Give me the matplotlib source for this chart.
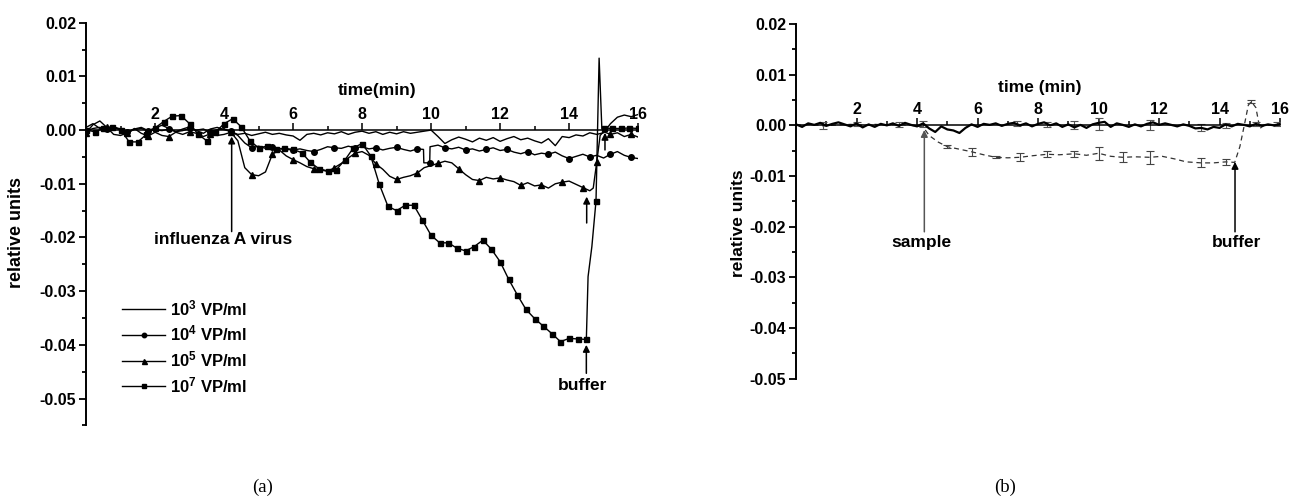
import numpy as np
import matplotlib
matplotlib.use("Agg")
import matplotlib.pyplot as plt
from matplotlib.ticker import MultipleLocator, FixedLocator

plt.rcParams['font.family'] = ['Liberation Sans', 'DejaVu Sans']
plt.rcParams['font.weight'] = 'bold'
plt.rcParams['axes.unicode_minus'] = False
plt.rcParams['mathtext.fontset'] = 'custom'
for k in ('rm', 'it', 'bf', 'sf'):
    plt.rcParams['mathtext.' + k] = 'Liberation Sans:bold'

# ======== panel (a) data ==========
t_a = np.round(np.arange(0, 16.01, 0.2), 1)
vp3 = [0.0005, 0.0012, 0.0003, -0.0002, 0.0004, 0.0001, -0.0006, 0.0002, 0.0005, -0.0001,
       0.0004, 0.0009, 0.0003, -0.0003, 0.0002, 0.0006, -0.0001, -0.0006, 0.0002, 0.0005,
       0.0001, -0.0003, -0.0008, -0.0006, -0.0010, -0.0007, -0.0004, -0.0008, -0.0006, -0.0009,
       -0.0011, -0.0019, -0.0008, -0.0006, -0.0009, -0.0005, -0.0007, -0.0003, -0.0008, -0.0004,
       -0.0002, -0.0006, -0.0003, -0.0008, -0.0004, -0.0007, -0.0003, -0.0006, -0.0004, -0.0002,
       0.0000, -0.0012, -0.0025, -0.0018, -0.0013, -0.0017, -0.0022, -0.0015, -0.0019, -0.0014,
       -0.0021, -0.0016, -0.0012, -0.0018, -0.0015, -0.0020, -0.0024, -0.0016, -0.0029, -0.0012,
       -0.0014, -0.0009, -0.0011, -0.0005, -0.0008, -0.0005, 0.0012, 0.0024, 0.0028, 0.0025,
       0.0029]

t_vp4 = [0.0, 0.2, 0.4, 0.6, 0.8, 1.0, 1.2, 1.4, 1.6, 1.8, 2.0, 2.2, 2.4, 2.6, 2.8, 3.0, 3.2,
         3.4, 3.6, 3.8, 4.0, 4.2, 4.4, 4.6, 4.8, 5.0, 5.2, 5.4, 5.6, 5.8, 6.0, 6.2, 6.4, 6.6,
         6.8, 7.0, 7.2, 7.4, 7.6, 7.8, 8.0, 8.2, 8.4, 8.6, 8.8, 9.0, 9.2, 9.4, 9.6, 9.78, 9.79,
         9.96, 9.97, 10.2, 10.4, 10.6, 10.8, 11.0, 11.2, 11.4, 11.6, 11.8, 12.0, 12.2, 12.4,
         12.6, 12.8, 13.0, 13.2, 13.4, 13.6, 13.8, 14.0, 14.2, 14.4, 14.6, 14.8, 15.0, 15.2,
         15.4, 15.6, 15.8, 16.0]
vp4 = [-0.0002, 0.0003, 0.0005, 0.0002, 0.0006, 0.0002, -0.0003, 0.0001, 0.0003, -0.0002,
       0.0001, -0.0001, 0.0002, -0.0003, -0.0001, 0.0003, 0.0000, 0.0002, -0.0004, 0.0001,
       0.0002, -0.0002, -0.0010, -0.0024, -0.0033, -0.0030, -0.0034, -0.0031, -0.0035, -0.0036,
       -0.0037, -0.0035, -0.0038, -0.0040, -0.0036, -0.0031, -0.0033, -0.0034, -0.0030, -0.0033,
       -0.0031, -0.0035, -0.0033, -0.0037, -0.0034, -0.0032, -0.0036, -0.0039, -0.0035, -0.0036,
       -0.0061, -0.0061, -0.0031, -0.0028, -0.0033, -0.0035, -0.0032, -0.0037, -0.0035, -0.0039,
       -0.0036, -0.0033, -0.0038, -0.0036, -0.0041, -0.0044, -0.0040, -0.0046, -0.0043, -0.0045,
       -0.0041, -0.0048, -0.0053, -0.0049, -0.0045, -0.0050, -0.0047, -0.0052, -0.0045, -0.0040,
       -0.0047, -0.0051, -0.0053]

t_vp5 = [0.0, 0.2, 0.4, 0.6, 0.8, 1.0, 1.2, 1.4, 1.6, 1.8, 2.0, 2.2, 2.4, 2.6, 2.8, 3.0, 3.2,
         3.4, 3.6, 3.8, 4.0, 4.2, 4.4, 4.6, 4.8, 5.0, 5.2, 5.4, 5.6, 5.8, 6.0, 6.2, 6.4, 6.6,
         6.8, 7.0, 7.2, 7.4, 7.6, 7.8, 8.0, 8.2, 8.4, 8.6, 8.8, 9.0, 9.2, 9.4, 9.6, 9.8, 10.0,
         10.2, 10.4, 10.6, 10.8, 11.0, 11.2, 11.4, 11.6, 11.8, 12.0, 12.2, 12.4, 12.6, 12.8,
         13.0, 13.2, 13.4, 13.6, 13.8, 14.0, 14.2, 14.4, 14.6, 14.7, 14.8, 14.9, 15.0, 15.2,
         15.4, 15.6, 15.8, 16.0]
vp5 = [-0.0005, 0.0010, 0.0017, 0.0005, -0.0008, -0.0010, -0.0005, 0.0003, -0.0006, -0.0011,
       -0.0004, -0.0010, -0.0012, -0.0004, -0.0008, -0.0003, -0.0006, -0.0012, -0.0007, -0.0010,
       -0.0008, -0.0004, -0.0020, -0.0070, -0.0083, -0.0085, -0.0078, -0.0045, -0.0037, -0.0048,
       -0.0055, -0.0061, -0.0068, -0.0072, -0.0074, -0.0077, -0.0070, -0.0062, -0.0052, -0.0043,
       -0.0040, -0.0047, -0.0063, -0.0073, -0.0086, -0.0092, -0.0088, -0.0085, -0.0080, -0.0070,
       -0.0066, -0.0062, -0.0058, -0.0061, -0.0072, -0.0083, -0.0092, -0.0094, -0.0088, -0.0091,
       -0.0089, -0.0093, -0.0096, -0.0103, -0.0098, -0.0104, -0.0102, -0.0108, -0.0100, -0.0097,
       -0.0095, -0.0101, -0.0107, -0.0113, -0.0108, -0.0060, -0.0010, -0.0003, -0.0008, -0.0005,
       -0.0012, -0.0008, -0.0013]

t_vp7 = [0.0, 0.25, 0.5, 0.75, 1.0, 1.25, 1.5, 1.75, 2.0, 2.25, 2.5, 2.75, 3.0, 3.25, 3.5, 3.75,
         4.0, 4.25, 4.5, 4.75, 5.0, 5.25, 5.5, 5.75, 6.0, 6.25, 6.5, 6.75, 7.0, 7.25, 7.5, 7.75,
         8.0, 8.25, 8.5, 8.75, 9.0, 9.25, 9.5, 9.75, 10.0, 10.25, 10.5, 10.75, 11.0, 11.25,
         11.5, 11.75, 12.0, 12.25, 12.5, 12.75, 13.0, 13.25, 13.5, 13.75, 14.0, 14.25, 14.5,
         14.55, 14.66, 14.78, 14.87, 14.95, 15.0, 15.25, 15.5, 15.75, 16.0]
vp7 = [0.0000, -0.0003, 0.0003, 0.0006, 0.0001, -0.0022, -0.0022, -0.0008, 0.0004, 0.0016,
       0.0026, 0.0027, 0.0012, -0.0008, -0.0020, -0.0004, 0.0012, 0.0021, 0.0006, -0.0020,
       -0.0033, -0.0030, -0.0035, -0.0034, -0.0036, -0.0042, -0.0060, -0.0072, -0.0076, -0.0074,
       -0.0056, -0.0033, -0.0025, -0.0048, -0.0101, -0.0142, -0.0150, -0.0140, -0.0140, -0.0168,
       -0.0196, -0.0210, -0.0210, -0.0220, -0.0225, -0.0217, -0.0205, -0.0222, -0.0245, -0.0278,
       -0.0307, -0.0334, -0.0351, -0.0365, -0.0379, -0.0394, -0.0388, -0.0389, -0.0390, -0.0273,
       -0.0217, -0.0132, 0.0134, 0.0002, 0.0004, 0.0003, 0.0003, 0.0004, 0.0003]
no_mark_7 = [14.55, 14.66, 14.87, 14.95]

legend_labels = ['10$^{3}$ VP/ml', '10$^{4}$ VP/ml', '10$^{5}$ VP/ml', '10$^{7}$ VP/ml']

# ======== panel (b) data ==========
t_b = np.round(np.arange(0, 16.01, 0.2), 1)
ref_b = [0.0002, -0.0003, 0.0004, 0.0001, 0.0005, -0.0001, 0.0003, 0.0006, 0.0002, -0.0002,
         0.0004, -0.0004, 0.0002, -0.0003, 0.0003, 0.0000, 0.0004, -0.0001, 0.0005, 0.0001,
         -0.0002, 0.0004, -0.0006, -0.0013, -0.0002, -0.0008, -0.0010, -0.0015, -0.0005, 0.0002,
         -0.0003, 0.0003, 0.0001, 0.0004, -0.0001, 0.0003, 0.0005, 0.0000, 0.0004, -0.0002,
         0.0003, 0.0006, 0.0000, 0.0004, -0.0003, 0.0002, -0.0004, 0.0001, -0.0005, 0.0002,
         0.0005, 0.0007, -0.0003, 0.0004, 0.0001, -0.0003, 0.0002, -0.0002, 0.0003, 0.0006,
         0.0001, 0.0004, 0.0001, -0.0002, 0.0002, -0.0001, -0.0006, -0.0005, -0.0008, -0.0003,
         -0.0005, 0.0002, -0.0002, 0.0003, 0.0001, -0.0002, 0.0003, -0.0001, 0.0002, 0.0000,
         0.0003]
ref_err_t = [0.9, 2.0, 3.4, 4.2, 7.3, 8.3, 9.2, 10.0, 11.7, 13.4, 14.2, 15.2, 15.9]
ref_err_v = [0.0000, 0.0003, 0.0001, 0.0003, 0.0003, 0.0002, 0.0000, 0.0003, 0.0001, -0.0005, 0.0000, 0.0002, 0.0002]
ref_err_e = [0.0007, 0.0004, 0.0005, 0.0006, 0.0005, 0.0005, 0.0008, 0.0012, 0.0010, 0.0007, 0.0005, 0.0004, 0.0004]

t_smp = [0.0, 0.5, 0.9, 1.4, 1.8, 2.3, 2.6, 3.0, 3.4, 3.8, 4.2, 4.4, 4.7, 5.0, 5.4, 5.8, 6.2,
         6.6, 7.0, 7.4, 7.8, 8.3, 8.7, 9.2, 9.6, 10.0, 10.4, 10.8, 11.2, 11.7, 12.1, 12.5, 12.9,
         13.4, 13.8, 14.2, 14.5, 14.67, 14.83, 14.95, 15.05, 15.2, 15.33, 15.5, 15.8, 16.0]
smp = [0.0000, 0.0002, -0.0001, 0.0001, 0.0002, 0.0000, 0.0002, 0.0001, 0.0002, 0.0000,
       -0.0003, -0.0020, -0.0033, -0.0042, -0.0047, -0.0052, -0.0058, -0.0063, -0.0064, -0.0063,
       -0.0060, -0.0057, -0.0058, -0.0056, -0.0059, -0.0055, -0.0061, -0.0063, -0.0062, -0.0063,
       -0.0061, -0.0066, -0.0072, -0.0074, -0.0074, -0.0072, -0.0073, -0.0042, 0.0004, 0.0040,
       0.0047, 0.0035, -0.0006, 0.0001, 0.0000, 0.0001]
smp_err_t = [5.0, 5.8, 6.6, 7.4, 8.3, 9.2, 10.0, 10.8, 11.7, 13.4, 14.2, 15.05]
smp_err_v = [-0.0042, -0.0052, -0.0063, -0.0063, -0.0057, -0.0056, -0.0055, -0.0063, -0.0063, -0.0074, -0.0072, 0.0047]
smp_err_e = [0.0003, 0.0008, 0.0002, 0.0008, 0.0006, 0.0006, 0.0013, 0.0010, 0.0013, 0.0009, 0.0006, 0.0003]

FS = 11.5


# ======== style_axes() ==========
# Origin-like axes: y spine at x=0, x axis drawn through y=0 with labels above.
# ================================
def style_axes(ax, ymin, ymax):
    ax.set_xlim(0, 16)
    ax.set_ylim(ymin, ymax)
    ax.spines['right'].set_visible(False)
    ax.spines['bottom'].set_visible(False)
    ax.spines['top'].set_position(('data', 0))
    ax.spines['left'].set_linewidth(1.4)
    ax.spines['top'].set_linewidth(1.1)
    ax.xaxis.set_ticks_position('top')
    ax.xaxis.set_major_locator(FixedLocator([2, 4, 6, 8, 10, 12, 14, 16]))
    ax.xaxis.set_minor_locator(FixedLocator([1, 3, 5, 7, 9, 11, 13, 15]))
    ax.yaxis.set_major_locator(MultipleLocator(0.01))
    ax.yaxis.set_minor_locator(MultipleLocator(0.005))
    ax.yaxis.set_major_formatter(plt.FuncFormatter(lambda v, p: '%.2f' % (round(v, 4) + 0.0)))
    ax.tick_params(axis='x', which='major', direction='out', length=5, width=1.1, labelsize=FS, pad=1)
    ax.tick_params(axis='x', which='minor', direction='out', length=3, width=1.1)
    ax.tick_params(axis='y', which='major', direction='out', length=5, width=1.3, labelsize=FS, pad=2)
    ax.tick_params(axis='y', which='minor', direction='out', length=3, width=1.3)
    ax.patch.set_alpha(0)


fig = plt.figure(figsize=(12.98, 4.97), dpi=100)

# ---- panel (a)
ax1 = fig.add_axes([0.0663, 0.1441, 0.4253, 0.8102])
style_axes(ax1, -0.055, 0.02)

marks_7 = [t not in no_mark_7 for t in t_vp7]
l3, = ax1.plot(t_a, vp3, color='black', lw=1.0)
l4, = ax1.plot(t_vp4, vp4, color='black', lw=1.0, marker='o', ms=4, markevery=3)
l5, = ax1.plot(t_vp5, vp5, color='black', lw=1.0, marker='^', ms=4.5, markevery=3)
l7, = ax1.plot(t_vp7, vp7, color='black', lw=1.0, marker='s', ms=3.6, markevery=marks_7)

ax1.set_ylabel('relative units', fontsize=13, fontweight='bold')
ax1.yaxis.set_label_coords(-0.110, 0.48)
ax1.text(8.43, 0.0074, 'time(min)', ha='center', va='center', fontsize=12.5)

arrow = dict(arrowstyle='-|>', color='black', lw=1.1, mutation_scale=10, shrinkA=0, shrinkB=0)
ax1.annotate('', xy=(4.22, -0.0012), xytext=(4.22, -0.0189), arrowprops=arrow)
ax1.text(3.97, -0.0203, 'influenza A virus', ha='center', va='center', fontsize=12.5)
ax1.annotate('', xy=(14.5, -0.0400), xytext=(14.5, -0.0453), arrowprops=arrow)
ax1.text(14.4, -0.0476, 'buffer', ha='center', va='center', fontsize=12.5)
ax1.annotate('', xy=(14.51, -0.0124), xytext=(14.51, -0.0173), arrowprops=arrow)
ax1.annotate('', xy=(15.04, -0.0005), xytext=(15.04, -0.0037), arrowprops=arrow)

ax1.legend([l3, l4, l5, l7], legend_labels, loc='upper left',
           bbox_to_anchor=(122 / 1298, 1 - 298 / 497), bbox_transform=fig.transFigure,
           frameon=False, fontsize=12, handlelength=2.6, handletextpad=0.3,
           labelspacing=0.35, borderpad=0, borderaxespad=0, markerscale=0.8)

# ---- panel (b)
ax2 = fig.add_axes([0.6133, 0.2378, 0.3729, 0.7139])
style_axes(ax2, -0.05, 0.02)

ax2.plot(t_smp, smp, color='#333333', lw=0.9, ls=(0, (4, 3)))
ax2.errorbar(smp_err_t, smp_err_v, yerr=smp_err_e, fmt='none', ecolor='#444444',
             elinewidth=0.8, capsize=3, capthick=0.8)
ax2.errorbar(ref_err_t, ref_err_v, yerr=ref_err_e, fmt='none', ecolor='#555555',
             elinewidth=0.8, capsize=3, capthick=0.8)
ax2.plot(t_b, ref_b, color='black', lw=1.6)

ax2.set_ylabel('relative units', fontsize=12.5, fontweight='bold')
ax2.yaxis.set_label_coords(-0.103, 0.44)
ax2.text(8.05, 0.0074, 'time (min)', ha='center', va='center', fontsize=12.5)

ax2.annotate('', xy=(4.24, -0.0009), xytext=(4.24, -0.0210),
             arrowprops=dict(arrowstyle='-|>', color='#555555', lw=1.1, mutation_scale=10,
                             shrinkA=0, shrinkB=0))
ax2.text(4.16, -0.0232, 'sample', ha='center', va='center', fontsize=12.5)
ax2.annotate('', xy=(14.51, -0.0072), xytext=(14.51, -0.0210), arrowprops=arrow)
ax2.text(14.55, -0.0232, 'buffer', ha='center', va='center', fontsize=12.5)

# captions
fig.text(263 / 1298, 1 - 487 / 497, '(a)', ha='center', va='center', fontsize=13.5,
         family='Liberation Serif', fontweight='normal')
fig.text(1005 / 1298, 1 - 487 / 497, '(b)', ha='center', va='center', fontsize=13.5,
         family='Liberation Serif', fontweight='normal')

fig.savefig('out.png', dpi=100)
